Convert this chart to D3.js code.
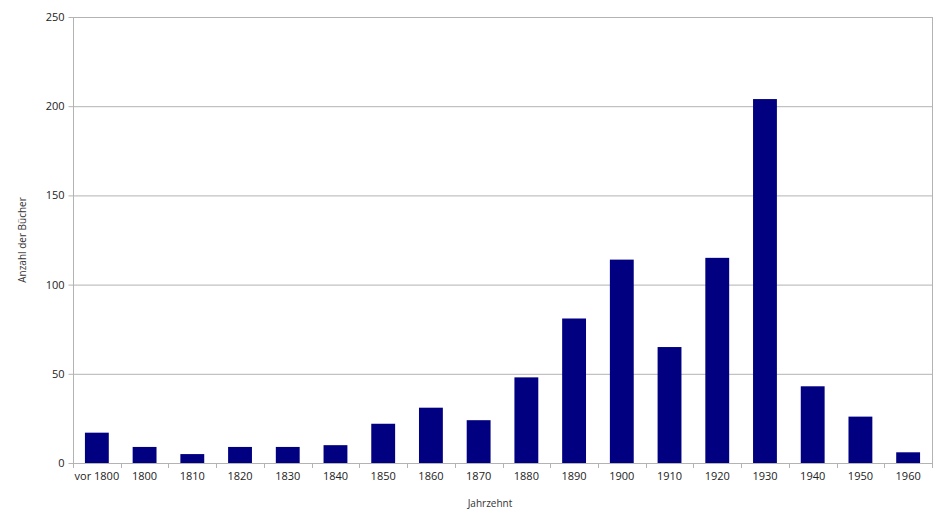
<!DOCTYPE html>
<html><head><meta charset="utf-8">
<script src="https://cdn.jsdelivr.net/npm/d3@7/dist/d3.min.js"></script>
<style>body{margin:0;background:#fff}text{font-family:"Open Sans",sans-serif}</style>
</head><body><svg id="c" width="952" height="525"></svg>
<script>
const categories = ["vor 1800","1800","1810","1820","1830","1840","1850","1860","1870","1880","1890","1900","1910","1920","1930","1940","1950","1960"];
const values = [17,9,5,9,9,10,22,31,24,48,81,114,65,115,204,43,26,6];
const yTicks = [0,50,100,150,200,250];
const yTitle = "Anzahl der Bücher";
const xTitle = "Jahrzehnt";

const svg = d3.select("#c");
const m = {l:73, r:20, t:17, b:62};
const W = 952, H = 525;
const x = d3.scaleBand().domain(categories).range([m.l, W-m.r]).paddingInner(0.5).paddingOuter(0.25);
const y = d3.scaleLinear().domain([0,250]).range([H-m.b, m.t]);
const grey = "#b3b3b3";

// gridlines
svg.append("g").selectAll("line").data(yTicks.filter(d=>d>0)).join("line")
  .attr("x1", m.l).attr("x2", W-m.r).attr("y1", d=>y(d)+0.5).attr("y2", d=>y(d)+0.5)
  .attr("stroke", grey);
// right border
svg.append("line").attr("x1", W-m.r+0.5).attr("x2", W-m.r+0.5).attr("y1", m.t).attr("y2", H-m.b+5).attr("stroke", grey);

// bars
svg.append("g").selectAll("rect").data(values).join("rect")
  .attr("x", (d,i)=>x(categories[i])).attr("width", x.bandwidth())
  .attr("y", d=>y(d)).attr("height", d=>y(0)-y(d))
  .attr("fill", "#000080");

// y axis
const ya = svg.append("g").attr("transform", `translate(${m.l+0.5},0)`)
  .call(d3.axisLeft(y).tickValues(yTicks).tickSize(5).tickPadding(4));
ya.select(".domain").attr("stroke", grey).attr("d", `M0,${m.t}V${H-m.b+5}`);
ya.selectAll(".tick line").attr("stroke", grey);
ya.selectAll(".tick text").attr("font-size", 11).attr("fill", "#222").attr("font-family", "Open Sans");

// x axis
const step = x.step();
const xa = svg.append("g").attr("transform", `translate(0,${y(0)+0.5})`)
  .call(d3.axisBottom(x).tickSize(0).tickPadding(9));
xa.select(".domain").attr("stroke", grey).attr("d", `M${m.l},0H${W-m.r}`);
xa.selectAll(".tick text").attr("font-size", 11).attr("fill", "#222").attr("font-family", "Open Sans");
// category boundary ticks
const bounds = d3.range(categories.length+1).map(i => x(categories[0]) - x.bandwidth()*0.5 + i*step);
svg.append("g").selectAll("line").data(bounds).join("line")
  .attr("x1", d=>Math.round(d)+0.5).attr("x2", d=>Math.round(d)+0.5)
  .attr("y1", y(0)).attr("y2", y(0)+5).attr("stroke", grey);

// titles
svg.append("text").attr("transform", `translate(26,${(m.t+H-m.b)/2}) rotate(-90)`)
  .attr("text-anchor","middle").attr("font-size", 10).attr("fill","#333").text(yTitle);
svg.append("text").attr("x", 490).attr("y", 507)
  .attr("text-anchor","middle").attr("font-size", 10).attr("fill","#333").text(xTitle);
</script></body></html>
